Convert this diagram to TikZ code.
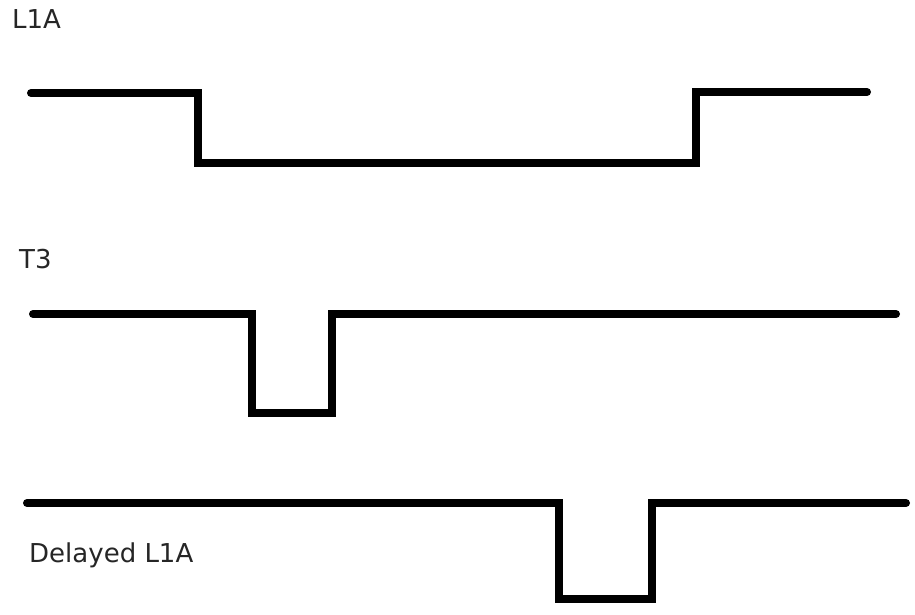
\documentclass[tikz,border=0pt]{standalone}
\usepackage{fontspec}
\setmainfont{DejaVu Sans}
\begin{document}
\begin{tikzpicture}[x=1pt,y=-1pt,
  wave/.style={line width=8pt,line cap=round,line join=miter,black},
  lbl/.style={anchor=base west,inner sep=0pt,text=black!85,font=\fontsize{26}{30}\selectfont}]
\useasboundingbox (0,0) rectangle (915,615);
\fill[white] (0,0) rectangle (915,615);
% labels
\node[lbl] (l1a) at (12,29) {L1A};
\node[lbl] (t3) at (19,268) {T3};
\node[lbl] (dl1a) at (29,562) {Delayed L1A};
% L1A waveform
\draw[wave] (31,93) -- (198,93) -- (198,163) -- (696,163) -- (696,92) -- (867,92);
% T3 waveform
\draw[wave] (33,314) -- (252,314) -- (252,413) -- (332,413) -- (332,314) -- (896,314);
% Delayed L1A waveform
\draw[wave] (27,503) -- (559,503) -- (559,599) -- (652,599) -- (652,503) -- (906,503);
\end{tikzpicture}
\end{document}
